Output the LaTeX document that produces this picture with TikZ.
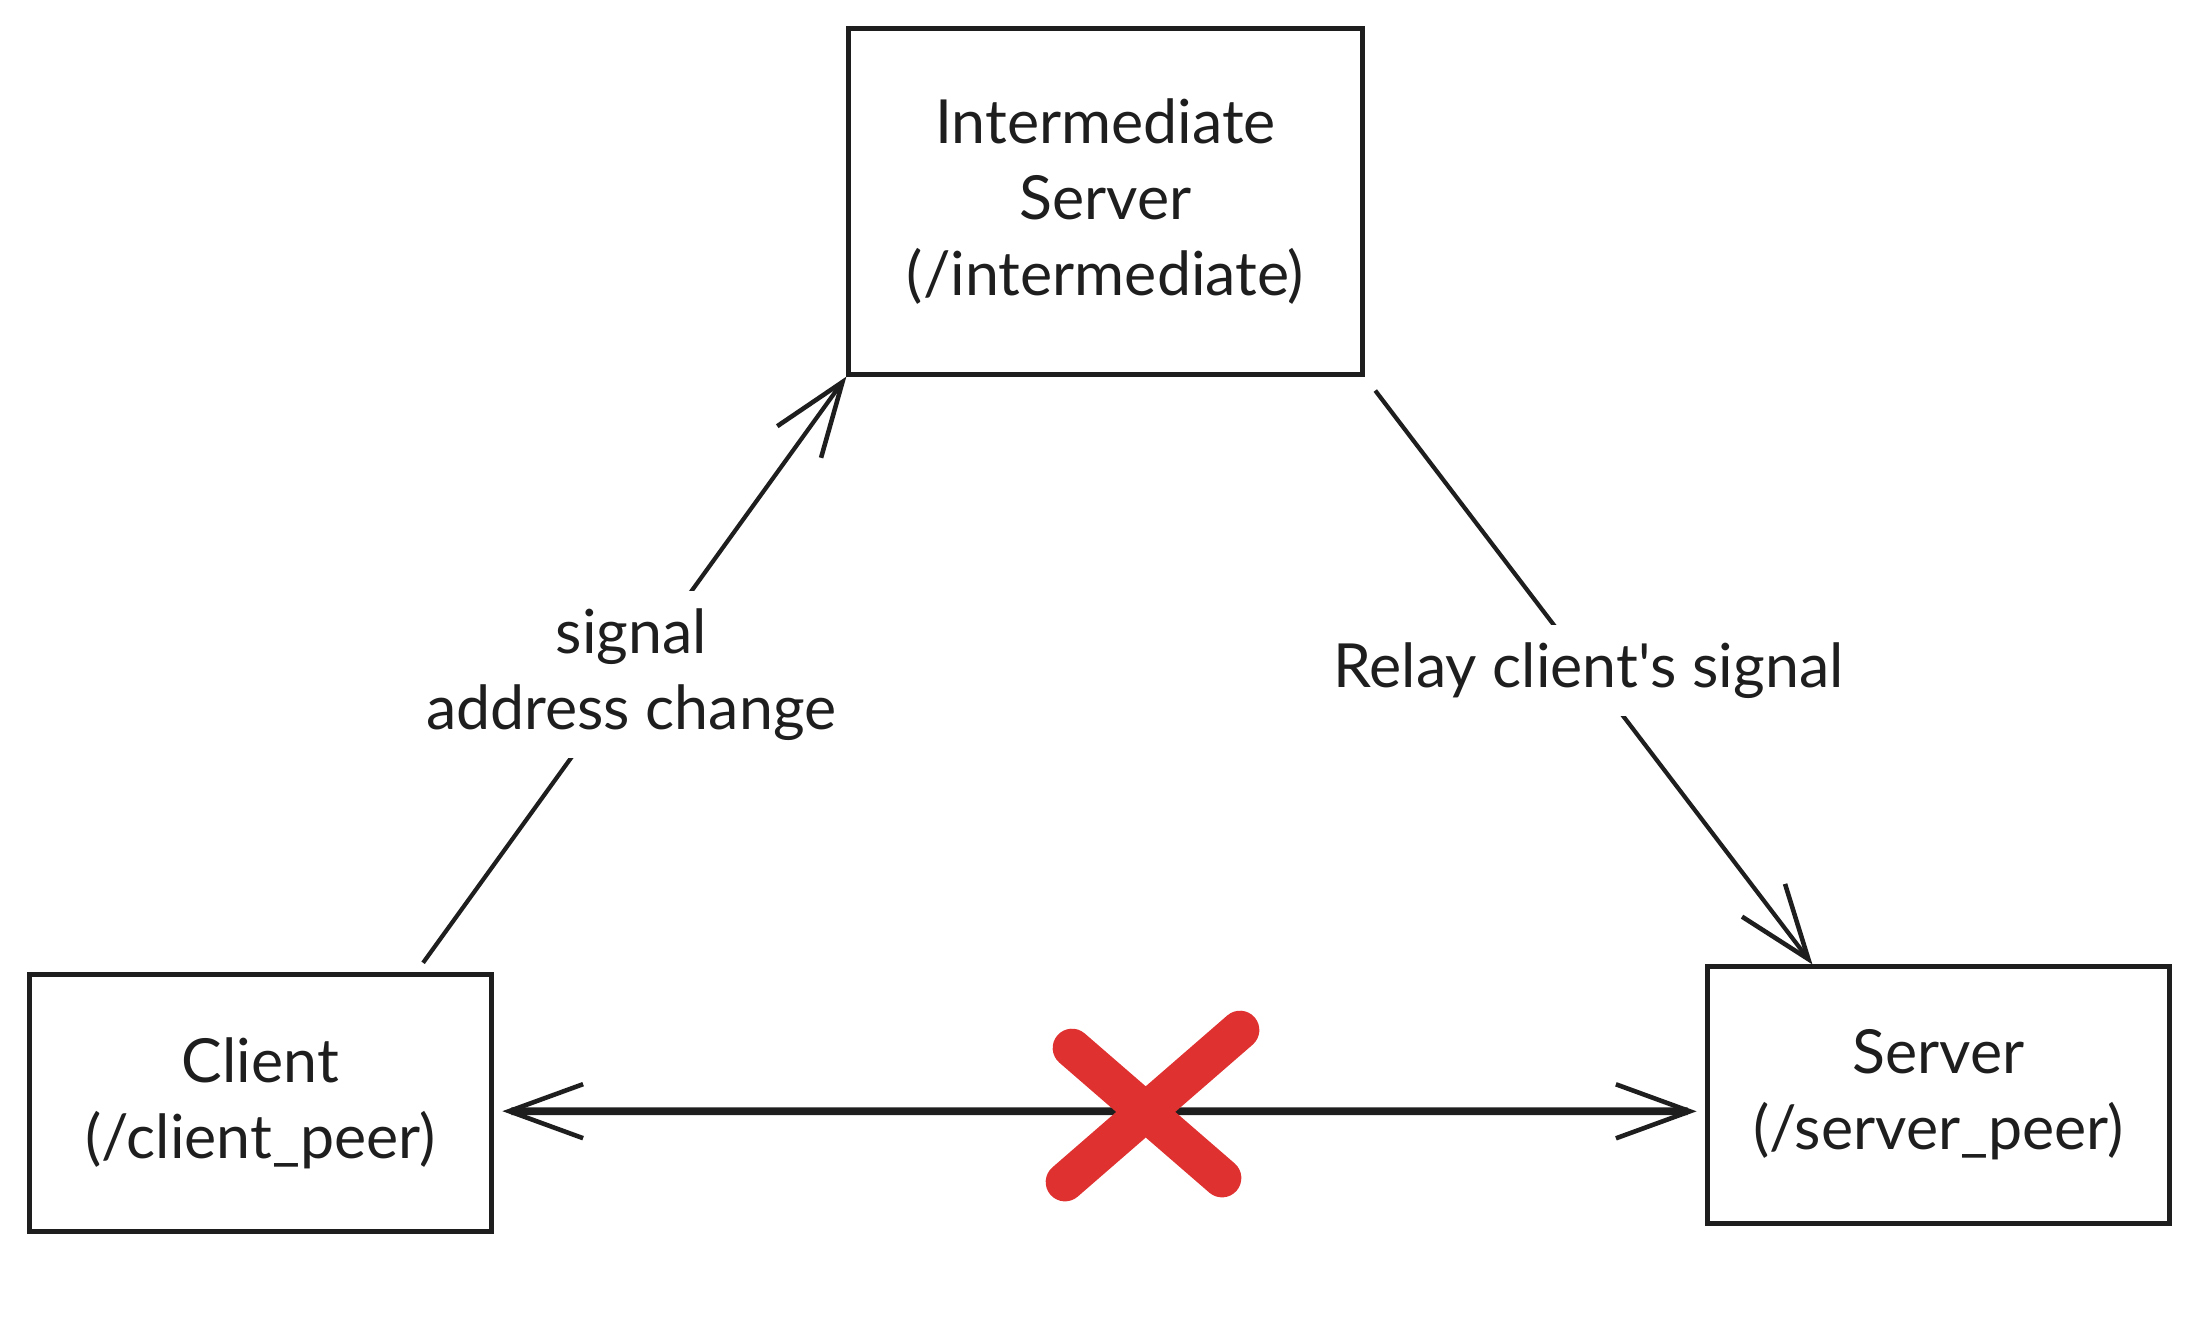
\documentclass[tikz,border=0pt]{standalone}
\usepackage{fontspec}
\setmainfont{Lato}
\usetikzlibrary{arrows.meta}
\definecolor{ink}{HTML}{1E1E1E}
\definecolor{crossred}{HTML}{E03131}

\begin{document}
\begin{tikzpicture}[x=0.01cm, y=-0.01cm,
  >={Straight Barb[length=0.74cm, width=0.54cm, line width=1.3pt]},
  box/.style={draw=ink, line width=1.4pt, minimum width=4.61cm, minimum height=2.56cm,
    align=center, text=ink, font=\fontsize{17.3}{21.6}\selectfont},
  link/.style={draw=ink, line width=1.2pt, ->},
  lbl/.style={fill=white, align=center, text=ink, inner sep=5pt,
    font=\fontsize{17.3}{21.6}\selectfont}]

\useasboundingbox (0,0) rectangle (2200,1329);

%%%%%%%%%%%%%%%%%%%%%%%%%%%%%%%
\node[box, minimum width=5.13cm, minimum height=3.45cm] (inter) at (1105.5,201.5)
  {Intermediate\\Server\\(/intermediate)};
\node[box] (client) at (260.5,1103) {Client\\(/client\_peer)};
\node[box] (server) at (1938.5,1095) {Server\\(/server\_peer)};

%%%%%%%%%%%%%%%%%%%%%%%%%%%%%%%
\draw[link, shorten <=3.4pt] (client.40) -- node[lbl] {signal\\address change} (inter.south west);
\draw[link, shorten <=5pt] (inter.south east) -- node[lbl] {Relay client\textquotesingle s signal} (server.134);

\draw[link, line width=2.2pt, <->, shorten <=2.5pt, shorten >=2.5pt] (client.-2) -- (server.184);

%%%%%%%%%%%%%%%%%%%%%%%%%%%%%%%
\draw[crossred, line width=11pt, line cap=round]
(1072,1048) -- (1222,1178)
(1240,1030) -- (1065,1182);

\end{tikzpicture}
\end{document}
